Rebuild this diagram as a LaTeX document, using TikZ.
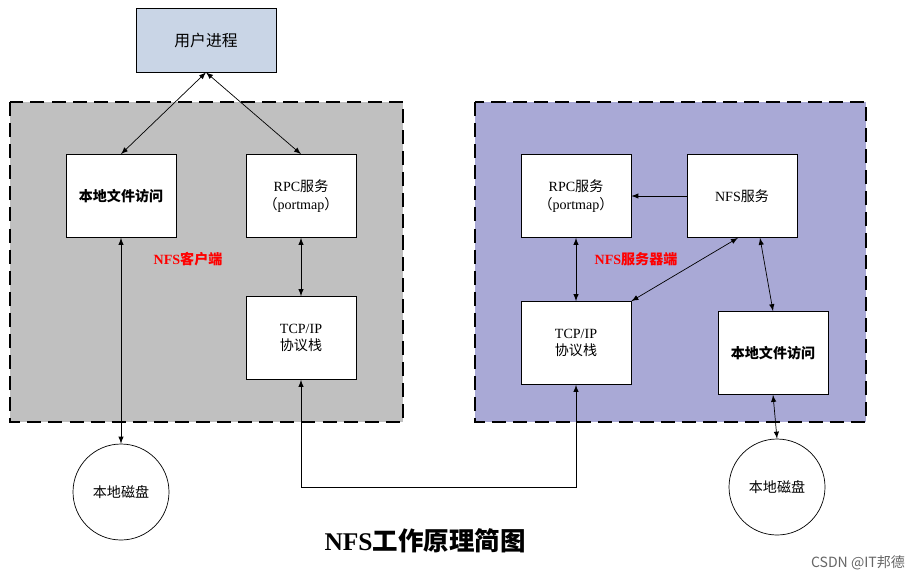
\documentclass[tikz,border=0pt]{standalone}
\usepackage{fontspec}
\setmainfont{Liberation Serif}
\newfontfamily\cjk{Noto Sans CJK SC}
\begin{document}
\begin{tikzpicture}[x=0.02cm,y=-0.02cm,
 bx/.style={draw,fill=white,minimum width=110*0.02cm,minimum height=83*0.02cm,align=center,font=\fontsize{8}{10}\selectfont,inner sep=1pt},
 arr/.style={<->,>=latex,thin},
 reg/.style={draw,line width=1.3pt,dash pattern=on 8pt off 4pt}]
\useasboundingbox (0,0) rectangle (911,582);
\fill[white] (0,0) rectangle (911,582);
\draw[reg,fill={rgb,255:red,192;green,192;blue,192}] (10,102) rectangle (403,422);
\draw[reg,fill={rgb,255:red,169;green,169;blue,214}] (475,102) rectangle (866,422);
\node[draw,fill={rgb,255:red,201;green,213;blue,230},minimum width=140*0.02cm,minimum height=64*0.02cm,font=\cjk\fontsize{9}{11}\selectfont] (up) at (206,40) {用户进程};
\node[bx,font=\cjk\bfseries\fontsize{8}{10}\selectfont] (lf) at (121,196) {本地文件访问};
\node[bx] (lrpc) at (301,196) {RPC{\cjk 服务}\\{\cjk （}portmap{\cjk ）}};
\node[bx] (ltcp) at (301,338) {TCP/IP\\{\cjk 协议栈}};
\node[bx] (rrpc) at (576,196) {RPC{\cjk 服务}\\{\cjk （}portmap{\cjk ）}};
\node[bx] (nfs) at (742,196) {NFS{\cjk 服务}};
\node[bx] (rtcp) at (576,343) {TCP/IP\\{\cjk 协议栈}};
\node[bx,font=\cjk\bfseries\fontsize{8}{10}\selectfont] (rf) at (773,353) {本地文件访问};
\node[text=red,font=\bfseries\fontsize{8}{10}\selectfont] (lc) at (188,259) {NFS{\cjk 客户端}};
\node[text=red,font=\bfseries\fontsize{8}{10}\selectfont] (rc) at (636,259) {NFS{\cjk 服务器端}};
\node[draw,circle,fill=white,minimum size=96*0.02cm,font=\cjk\fontsize{8}{10}\selectfont] (ld) at (121,492) {本地磁盘};
\node[draw,circle,fill=white,minimum size=96*0.02cm,font=\cjk\fontsize{8}{10}\selectfont] (rd) at (777,487) {本地磁盘};
\draw[arr] (up.south) -- (lf.north);
\draw[arr] (up.south) -- (lrpc.north);
\draw[arr] (lf.south) -- (ld.north);
\draw[arr] (lrpc.south) -- (ltcp.north);
\draw[->,>=latex] (nfs.west) -- (rrpc.east);
\draw[arr] (rrpc.south) -- (rtcp.north);
\draw[arr] ([xshift=-4*0.02cm]nfs.south) -- (rtcp.north east);
\draw[arr] ([xshift=18*0.02cm]nfs.south) -- (rf.north);
\draw[arr] (rf.south) -- (rd.north);
\draw[<->,>=latex] (ltcp.south) -- (301,487) -- (576,487) -- (rtcp.south);
\node[font=\bfseries\fontsize{14.5}{17}\selectfont] (title) at (425,541) {NFS{\cjk 工作原理简图}};
\node[text=gray!80!black,font=\cjk\fontsize{8}{10}\selectfont] (wm) at (858,563) {CSDN @IT邦德};
\end{tikzpicture}
\end{document}
